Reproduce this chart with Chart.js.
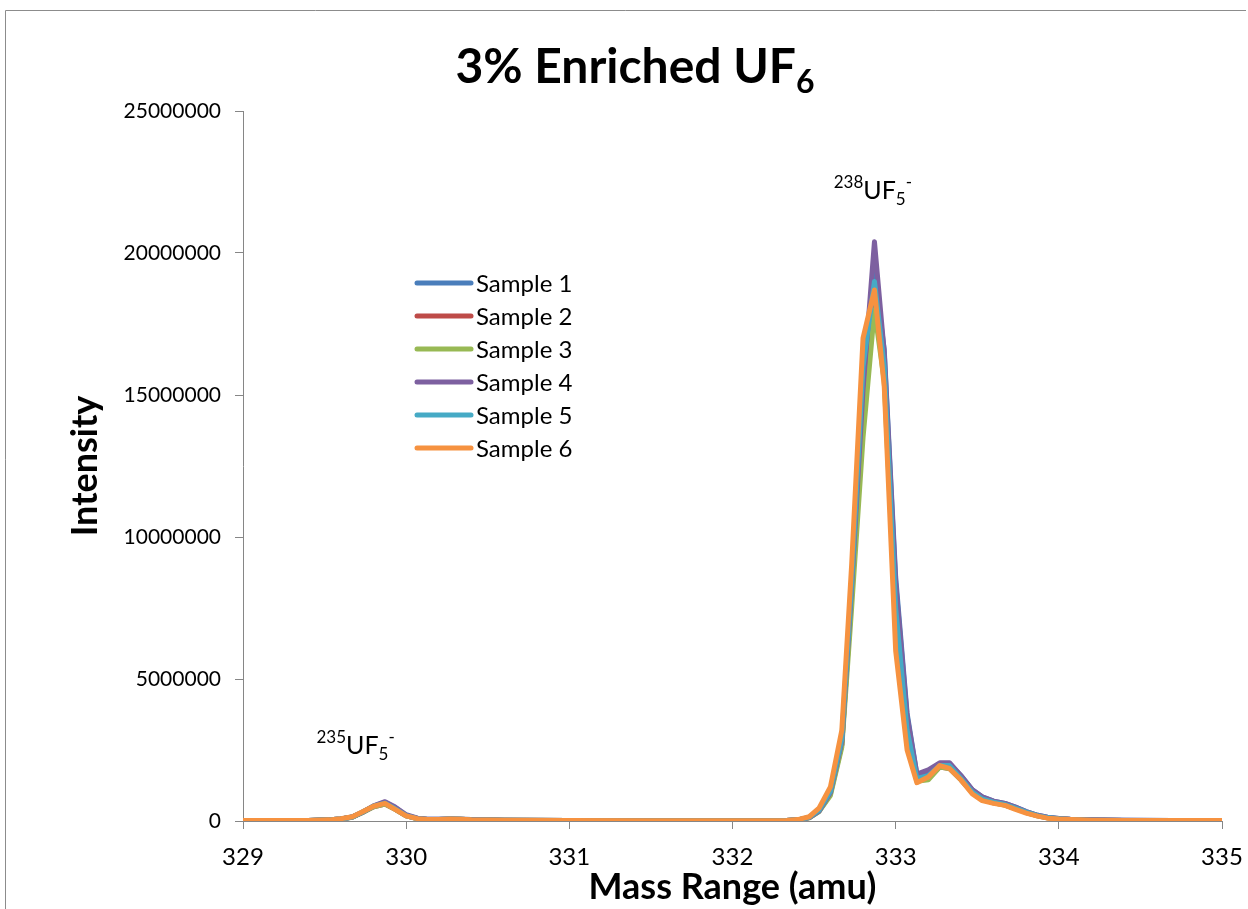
<!DOCTYPE html>
<html>
<head>
<meta charset="utf-8">
<title>3% Enriched UF6</title>
<script src="https://cdn.jsdelivr.net/npm/chart.js@4.4.0/dist/chart.umd.min.js"></script>
<style>
    html, body { margin: 0; padding: 0; background: #fff; }
    #wrap { width: 1248px; height: 909px; }
</style>
</head>
<body>
<div id="wrap"><canvas id="uf6Chart" width="1248" height="909"></canvas></div>
<script>
// Mass axis (amu) shared by all samples
const massValues = [329.00, 329.40, 329.53, 329.60, 329.67, 329.73, 329.80, 329.87, 329.93, 330.00,
    330.07, 330.13, 330.20, 330.27, 330.33, 330.40, 330.60, 331.00, 331.50, 332.00,
    332.33, 332.40, 332.47, 332.53, 332.60, 332.67, 332.73, 332.80, 332.87, 332.93,
    333.00, 333.07, 333.13, 333.20, 333.27, 333.33, 333.40, 333.47, 333.53, 333.60,
    333.67, 333.73, 333.80, 333.87, 333.93, 334.00, 334.07, 334.13, 334.20, 334.40,
    334.70, 335.00];

// Intensity per sample
const sample1 = [20000, 20000, 40000, 70000, 140000, 300000, 520000, 660000, 480000, 200000,
    90000, 60000, 60000, 70000, 60000, 50000, 30000, 20000, 10000, 10000,
    20000, 40000, 120000, 340000, 950000, 2700000, 8000000, 15000000, 19300000, 16600000,
    8600000, 3800000, 1650000, 1700000, 2000000, 2000000, 1600000, 1100000, 850000, 700000,
    620000, 500000, 330000, 200000, 130000, 90000, 60000, 50000, 40000, 30000,
    20000, 20000];
const sample2 = [20000, 20000, 40000, 70000, 140000, 300000, 500000, 600000, 420000, 180000,
    80000, 50000, 50000, 60000, 60000, 40000, 30000, 20000, 10000, 10000,
    20000, 40000, 120000, 360000, 1000000, 2700000, 8000000, 14500000, 18300000, 15800000,
    7200000, 3000000, 1450000, 1500000, 1900000, 1850000, 1450000, 1000000, 750000, 640000,
    560000, 440000, 300000, 180000, 110000, 80000, 50000, 40000, 30000, 20000,
    20000, 20000];
const sample3 = [20000, 20000, 40000, 70000, 130000, 290000, 500000, 600000, 420000, 180000,
    80000, 50000, 50000, 60000, 60000, 40000, 30000, 20000, 10000, 10000,
    20000, 40000, 110000, 330000, 900000, 2600000, 7500000, 13500000, 18000000, 15500000,
    7000000, 2900000, 1400000, 1450000, 1900000, 1850000, 1450000, 1000000, 750000, 640000,
    560000, 440000, 300000, 180000, 110000, 80000, 50000, 40000, 30000, 20000,
    20000, 20000];
const sample4 = [20000, 20000, 40000, 70000, 140000, 300000, 530000, 680000, 500000, 220000,
    100000, 60000, 60000, 70000, 60000, 50000, 30000, 20000, 10000, 10000,
    20000, 40000, 120000, 350000, 1000000, 2800000, 8200000, 15200000, 20400000, 16500000,
    8400000, 3700000, 1650000, 1800000, 2050000, 2050000, 1600000, 1100000, 850000, 700000,
    620000, 500000, 330000, 200000, 130000, 90000, 60000, 50000, 40000, 30000,
    20000, 20000];
const sample5 = [20000, 20000, 40000, 70000, 140000, 310000, 520000, 630000, 440000, 190000,
    80000, 50000, 50000, 70000, 60000, 40000, 30000, 20000, 10000, 10000,
    20000, 40000, 130000, 380000, 1050000, 2900000, 8400000, 16000000, 19000000, 16000000,
    7500000, 3200000, 1500000, 1600000, 1950000, 1950000, 1500000, 1020000, 780000, 660000,
    580000, 460000, 310000, 190000, 120000, 80000, 50000, 40000, 30000, 20000,
    20000, 20000];
const sample6 = [20000, 20000, 40000, 80000, 150000, 320000, 520000, 620000, 420000, 180000,
    80000, 50000, 50000, 70000, 60000, 40000, 30000, 20000, 10000, 10000,
    20000, 50000, 150000, 450000, 1200000, 3200000, 9000000, 17000000, 18700000, 15300000,
    6000000, 2500000, 1350000, 1550000, 1950000, 1850000, 1450000, 950000, 720000, 620000,
    550000, 420000, 280000, 170000, 100000, 70000, 50000, 40000, 30000, 20000,
    20000, 20000];

const sampleNames = ['Sample 1', 'Sample 2', 'Sample 3', 'Sample 4', 'Sample 5', 'Sample 6'];
const sampleColors = ['#4A7EBB', '#BE4B48', '#98B954', '#7D60A0', '#46AAC5', '#F69240'];
const sampleSeries = [sample1, sample2, sample3, sample4, sample5, sample6];

const FONT = 'Lato, "Open Sans", sans-serif';

// draws text pieces with super/subscripts, centred on cx
function drawRichText(ctx, pieces, cx, baseY, weight) {
    let total = 0;
    pieces.forEach(p => {
        ctx.font = `${weight} ${p.size}px ${FONT}`;
        p.w = ctx.measureText(p.text).width;
        total += p.w;
    });
    let x = cx - total / 2;
    ctx.textAlign = 'left';
    ctx.textBaseline = 'alphabetic';
    ctx.fillStyle = '#000';
    pieces.forEach(p => {
        ctx.font = `${weight} ${p.size}px ${FONT}`;
        ctx.fillText(p.text, x, baseY + p.dy);
        x += p.w;
    });
}

const decorPlugin = {
    id: 'decor',
    beforeDraw(chart) {
        const ctx = chart.ctx;
        ctx.save();
        ctx.fillStyle = '#fff';
        ctx.fillRect(0, 0, chart.width, chart.height);
        // outer chart frame
        ctx.strokeStyle = '#8c8c8c';
        ctx.lineWidth = 1;
        ctx.beginPath();
        ctx.moveTo(5.5, 909);
        ctx.lineTo(5.5, 10.5);
        ctx.lineTo(1246, 10.5);
        ctx.stroke();
        ctx.restore();
    },
    afterDraw(chart) {
        const ctx = chart.ctx;
        const xs = chart.scales.x;
        const ys = chart.scales.y;
        ctx.save();

        // title
        drawRichText(ctx, [
            { text: '3% Enriched UF', size: 48, dy: 0 },
            { text: '6', size: 32, dy: 10 }
        ], 635, 83, 'bold');

        // peak labels
        drawRichText(ctx, [
            { text: '238', size: 17, dy: -11 },
            { text: 'UF', size: 25, dy: 0 },
            { text: '5', size: 17, dy: 6 },
            { text: '-', size: 17, dy: -11 }
        ], xs.getPixelForValue(332.86), ys.getPixelForValue(21900000), 'normal');
        drawRichText(ctx, [
            { text: '235', size: 17, dy: -11 },
            { text: 'UF', size: 25, dy: 0 },
            { text: '5', size: 17, dy: 6 },
            { text: '-', size: 17, dy: -11 }
        ], xs.getPixelForValue(329.69), ys.getPixelForValue(2350000), 'normal');

        // legend inside the plot
        const lx = 417, ly = 283, gap = 33;
        chart.data.datasets.forEach((ds, i) => {
            const y = ly + i * gap;
            ctx.strokeStyle = ds.borderColor;
            ctx.lineWidth = 5;
            ctx.lineCap = 'round';
            ctx.beginPath();
            ctx.moveTo(lx, y);
            ctx.lineTo(lx + 54, y);
            ctx.stroke();
            ctx.fillStyle = '#000';
            ctx.font = `24px ${FONT}`;
            ctx.textAlign = 'left';
            ctx.textBaseline = 'middle';
            ctx.fillText(ds.label, lx + 59, y + 1);
        });
        ctx.restore();
    }
};

const datasets = sampleSeries.map((series, i) => ({
    label: sampleNames[i],
    data: massValues.map((m, j) => ({ x: m, y: series[j] })),
    borderColor: sampleColors[i],
    backgroundColor: sampleColors[i],
    borderWidth: 5,
    pointRadius: 0,
    tension: 0,
    borderJoinStyle: 'round',
    borderCapStyle: 'round',
    fill: false,
    order: sampleSeries.length - i   // Sample 6 drawn on top
}));

const ctx = document.getElementById('uf6Chart').getContext('2d');
new Chart(ctx, {
    type: 'line',
    data: { datasets: datasets },
    options: {
        responsive: false,
        animation: false,
        layout: { padding: { top: 111, right: 26, bottom: 0, left: 64 } },
        plugins: {
            legend: { display: false },
            title: { display: false },
            tooltip: { enabled: false }
        },
        scales: {
            x: {
                type: 'linear',
                min: 329,
                max: 335,
                ticks: { stepSize: 1, color: '#000', padding: 14, font: { family: FONT, size: 24 } },
                grid: { drawOnChartArea: false, drawTicks: true, tickLength: 8, color: '#868686' },
                border: { color: '#868686', width: 1 },
                title: {
                    display: true,
                    text: 'Mass Range (amu)',
                    color: '#000',
                    font: { family: FONT, size: 36, weight: 'bold' },
                    padding: { top: 0, bottom: 0 }
                },
                afterFit(scale) {
                    scale.height = 88;
                    scale.paddingLeft = 0;
                    scale.paddingRight = 0;
                }
            },
            y: {
                min: 0,
                max: 25000000,
                ticks: {
                    stepSize: 5000000,
                    color: '#000',
                    padding: 14,
                    font: { family: FONT, size: 21 },
                    callback: v => String(v)
                },
                grid: { drawOnChartArea: false, drawTicks: true, tickLength: 8, color: '#868686' },
                border: { color: '#868686', width: 1 },
                title: {
                    display: true,
                    text: 'Intensity',
                    color: '#000',
                    font: { family: FONT, size: 36, weight: 'bold' },
                    padding: { top: 0, bottom: 0 }
                },
                afterFit(scale) { scale.width = 179; }
            }
        }
    },
    plugins: [decorPlugin]
});
</script>
</body>
</html>
